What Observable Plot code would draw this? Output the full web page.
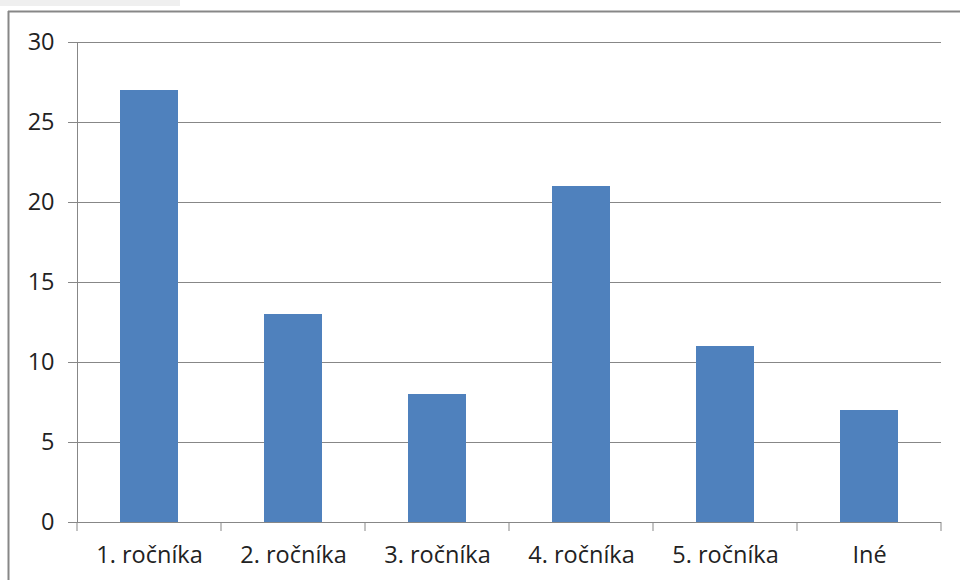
<!DOCTYPE html>
<html>
<head>
<meta charset="utf-8">
<script src="https://cdn.jsdelivr.net/npm/d3@7"></script>
<script src="https://cdn.jsdelivr.net/npm/@observablehq/plot@0.6"></script>
<style>
  html, body { margin: 0; padding: 0; background: #fff; }
  #chart { width: 960px; height: 580px; overflow: hidden; }
</style>
</head>
<body>
<div id="chart"></div>
<script>
const categories = ["1. ročníka", "2. ročníka", "3. ročníka", "4. ročníka", "5. ročníka", "Iné"];
const values = [27, 13, 8, 21, 11, 7];
const yTicks = [0, 5, 10, 15, 20, 25, 30];

const data = categories.map((c, i) => ({category: c, value: values[i]}));
const gray = "#878787";

const chart = Plot.plot({
  width: 960,
  height: 580,
  marginLeft: 77,
  marginRight: 19,
  marginTop: 42,
  marginBottom: 58,
  style: {fontFamily: "'Open Sans', Lato, sans-serif", fontSize: "23.5px", color: "#222", background: "#fff"},
  x: {domain: categories, padding: 0, label: null},
  y: {domain: [0, 30], label: null},
  marks: [
    Plot.gridY(yTicks.filter(d => d > 0), {stroke: gray, strokeOpacity: 1, strokeWidth: 1}),
    Plot.axisY(yTicks, {tickSize: 9, tickPadding: 14, stroke: gray, strokeOpacity: 1, fill: "#222", fontSize: 23.5, label: null}),
    Plot.axisX({tickSize: 0, tickPadding: 24, fill: "#222", fontSize: 23.5, label: null}),
    Plot.barY(data, {x: "category", y: "value", fill: "#4F81BD", insetLeft: 43, insetRight: 43}),
    Plot.ruleY([0], {stroke: gray, strokeWidth: 1}),
    Plot.frame({anchor: "left", stroke: gray, strokeWidth: 1})
  ]
});

document.getElementById("chart").appendChild(chart);

// category boundary ticks below the baseline, positioned via the library's scales
const sx = chart.scale("x");
const sy = chart.scale("y");
const bw = sx.bandwidth;
const y0 = sy.apply(0);
const svg = d3.select(chart);
const bounds = categories.map(c => sx.apply(c)).concat([sx.apply(categories[categories.length - 1]) + bw]);
svg.append("g").selectAll("line").data(bounds).join("line")
  .attr("x1", d => d).attr("x2", d => d)
  .attr("y1", y0).attr("y2", y0 + 9)
  .attr("stroke", gray).attr("stroke-width", 1);

// outer chart border and cropped header strip
svg.append("rect").attr("x", 0).attr("y", 0).attr("width", 180).attr("height", 6).attr("fill", "#efefef");
svg.append("line").attr("x1", 8.5).attr("x2", 8.5).attr("y1", 11).attr("y2", 580).attr("stroke", gray).attr("stroke-width", 2);
svg.append("line").attr("x1", 8).attr("x2", 960).attr("y1", 11.5).attr("y2", 11.5).attr("stroke", gray).attr("stroke-width", 2);
</script>
</body>
</html>
